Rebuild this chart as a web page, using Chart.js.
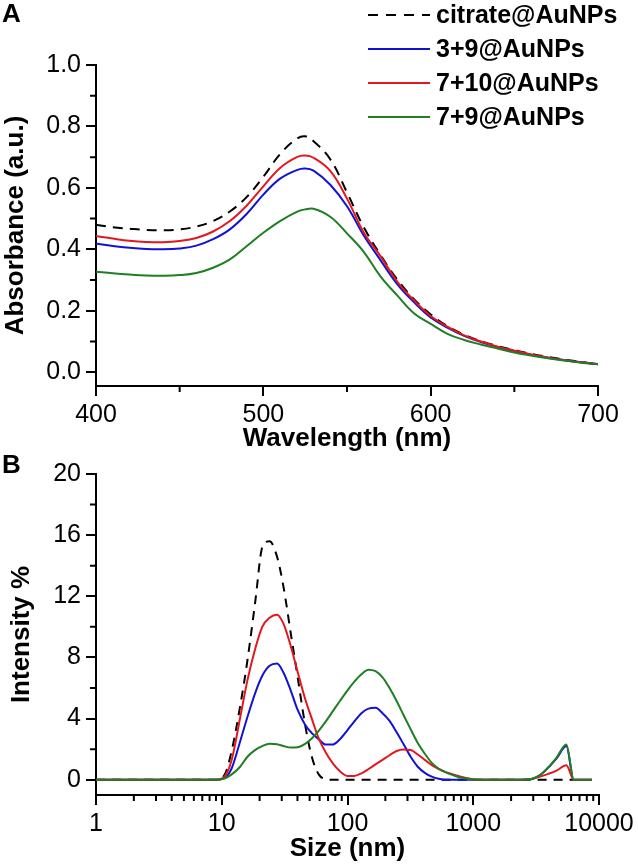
<!DOCTYPE html>
<html>
<head>
<meta charset="utf-8">
<script src="https://cdn.jsdelivr.net/npm/chart.js@4.4.1/dist/chart.umd.min.js"></script>
<style>
  body { margin: 0; background: #fff; }
  #wrap { position: relative; width: 638px; height: 864px; }
  .panel { position: absolute; left: 0; width: 638px; }
</style>
</head>
<body>
<div id="wrap">
  <div class="panel" style="top:0;height:454px"><canvas id="uvChart"></canvas></div>
  <div class="panel" style="top:454px;height:410px"><canvas id="dlsChart"></canvas></div>
</div>
<script>
// Panel A: UV-vis absorbance
const wavelengths = [400,410,420,430,440,450,460,470,480,490,500,510,520,525,530,540,550,560,570,580,590,600,610,620,630,640,650,660,670,680,690,700];
const citrateUV = [0.480,0.472,0.467,0.463,0.462,0.465,0.474,0.492,0.523,0.570,0.636,0.710,0.760,0.768,0.752,0.693,0.585,0.472,0.382,0.302,0.238,0.188,0.150,0.122,0.101,0.085,0.072,0.060,0.050,0.041,0.033,0.026];
const np39UV = [0.419,0.411,0.405,0.401,0.400,0.403,0.412,0.433,0.465,0.515,0.578,0.630,0.658,0.663,0.656,0.610,0.540,0.445,0.365,0.287,0.228,0.178,0.145,0.118,0.098,0.082,0.069,0.057,0.047,0.039,0.032,0.026];
const np710UV = [0.443,0.435,0.428,0.424,0.423,0.427,0.437,0.458,0.492,0.542,0.605,0.665,0.700,0.705,0.698,0.655,0.565,0.455,0.378,0.295,0.234,0.183,0.148,0.120,0.100,0.083,0.070,0.058,0.048,0.039,0.032,0.026];
const np79UV = [0.327,0.322,0.318,0.315,0.314,0.316,0.323,0.340,0.367,0.410,0.454,0.492,0.522,0.530,0.532,0.506,0.452,0.392,0.312,0.250,0.192,0.157,0.125,0.105,0.090,0.077,0.064,0.054,0.045,0.038,0.031,0.026];
const uvXTicks = [400, 500, 600, 700];
const uvXMinor = [450, 550, 650];
const uvYTicks = [0, 0.2, 0.4, 0.6, 0.8, 1.0];
const uvYMinor = [0.1, 0.3, 0.5, 0.7, 0.9];

// Panel B: DLS size distribution
const sizes = [1,9,10.5,12,14,16,18.5,21,24,27.5,31,35.5,40,46,52,59,67,76,87,100,113,129,147,167,190,216,246,280,318,362,412,468,532,605,690,785,900,1100,2500,2900,3400,3950,4600,5500,6300,8800];
const citrateDLS = [0,0,0.3,1.9,4.8,7.8,11.7,15.2,15.6,14.6,12.6,9.5,6.8,3.6,1.5,0.35,0.05,0,0,0,0,0,0,0,0,0,0,0,0,0,0,0,0,0,0,0,0,0,0,0,0,0,0,0,0,null];
const np39DLS = [0,0,0.1,0.75,2.5,4.1,5.7,6.8,7.45,7.6,7.0,5.8,4.6,3.6,3.05,2.65,2.3,2.3,2.65,3.25,3.8,4.35,4.65,4.7,4.35,3.85,3.1,2.3,1.5,0.85,0.45,0.2,0.06,0,0,0,0,0,0,0.03,0.3,0.8,1.4,2.2,0,0];
const np710DLS = [0,0,0.2,1.3,4.05,6.5,8.6,10.0,10.6,10.8,10.2,8.7,7.1,5.3,4.0,2.7,1.8,1.1,0.55,0.25,0.25,0.42,0.7,1.0,1.3,1.6,1.88,1.98,1.95,1.65,1.3,0.95,0.7,0.5,0.35,0.22,0.1,0,0,0.05,0.2,0.38,0.6,0.95,0,0];
const np79DLS = [0,0,0.08,0.35,0.85,1.5,1.95,2.2,2.35,2.32,2.2,2.1,2.12,2.35,2.7,3.2,3.8,4.45,5.15,5.85,6.4,6.9,7.2,7.1,6.7,6.0,5.15,4.2,3.3,2.4,1.7,1.1,0.72,0.48,0.3,0.15,0.07,0,0,0.05,0.3,0.8,1.45,2.3,0,0];
const dlsXTicks = [1, 10, 100, 1000, 10000];
const dlsXMinor = [2,3,4,5,6,7,8,9,20,30,40,50,60,70,80,90,200,300,400,500,600,700,800,900,2000,3000,4000,5000,6000,7000,8000,9000];
const dlsYTicks = [0, 4, 8, 12, 16, 20];
const dlsYMinor = [2, 6, 10, 14, 18];

const labels = ['citrate@AuNPs', '3+9@AuNPs', '7+10@AuNPs', '7+9@AuNPs'];
const colors = ['#000000', '#1212d4', '#e3171d', '#1f7f22'];

Chart.defaults.font.family = '"Liberation Sans", Arial, sans-serif';
Chart.defaults.color = '#000';

const pairs = (xs, ys) => xs.map((x, i) => ({ x: x, y: ys[i] }));

function makeDatasets(xs, series, dash, smooth) {
  const order = [3, 2, 1, 0];
  return series.map((ys, i) => ({
    label: labels[i],
    data: pairs(xs, ys),
    borderColor: colors[i],
    borderWidth: 2,
    borderDash: i === 0 ? dash : [],
    pointRadius: 0,
    fill: false,
    tension: smooth ? 0.4 : 0,
    cubicInterpolationMode: smooth ? 'default' : 'monotone',
    order: order[i],
  }));
}

// minor ticks, panel letter and the legend
const axisExtras = {
  id: 'axisExtras',
  afterDraw(chart, args, opts) {
    const { ctx, chartArea, scales } = chart;
    ctx.save();
    ctx.strokeStyle = '#000';
    ctx.lineWidth = 2;
    ctx.beginPath();
    opts.minorX.forEach(v => {
      const x = scales.x.getPixelForValue(v);
      ctx.moveTo(x, chartArea.bottom);
      ctx.lineTo(x, chartArea.bottom + 6);
    });
    opts.minorY.forEach(v => {
      const y = scales.y.getPixelForValue(v);
      ctx.moveTo(chartArea.left - 6, y);
      ctx.lineTo(chartArea.left, y);
    });
    ctx.stroke();

    ctx.fillStyle = '#000';
    ctx.textAlign = 'left';
    ctx.textBaseline = 'middle';
    ctx.font = 'bold 26px "Liberation Sans", Arial, sans-serif';
    ctx.fillText(opts.letter, opts.letterX, opts.letterY);

    if (opts.legend) {
      ctx.font = 'bold 25px "Liberation Sans", Arial, sans-serif';
      chart.data.datasets.forEach((ds, i) => {
        const y = 15 + i * 34;
        ctx.strokeStyle = ds.borderColor;
        ctx.setLineDash(ds.borderDash.length ? [10, 8] : []);
        ctx.beginPath();
        ctx.moveTo(368, y);
        ctx.lineTo(430, y);
        ctx.stroke();
        ctx.setLineDash([]);
        ctx.fillText(ds.label, 436, y + 1);
      });
    }
    ctx.restore();
  }
};

function axis(title, titlePad) {
  return {
    grid: { drawOnChartArea: false, drawTicks: true, tickLength: 10, lineWidth: 2, color: '#000' },
    border: { display: true, color: '#000', width: 2 },
    ticks: { font: { size: 25 }, color: '#000', padding: 4, maxRotation: 0, autoSkip: false },
    title: { display: true, text: title, font: { size: 26, weight: 'bold' }, color: '#000', padding: titlePad },
  };
}

// Panel A
const uvX = axis('Wavelength (nm)', { top: 0, bottom: 0 });
Object.assign(uvX, {
  type: 'linear', min: 400, max: 700,
  afterBuildTicks: s => { s.ticks = uvXTicks.map(v => ({ value: v })); },
  afterFit: s => { s.height = 68; },
});
uvX.ticks.callback = v => String(v);
const uvY = axis('Absorbance (a.u.)', { top: 0, bottom: 0 });
Object.assign(uvY, {
  min: -0.045, max: 1.0,
  afterBuildTicks: s => { s.ticks = uvYTicks.map(v => ({ value: v })); },
  afterFit: s => { s.width = 96; },
});
uvY.ticks.padding = 5;
uvY.ticks.callback = v => v.toFixed(1);

new Chart(document.getElementById('uvChart'), {
  type: 'line',
  data: { datasets: makeDatasets(wavelengths, [citrateUV, np39UV, np710UV, np79UV], [10, 7], true) },
  options: {
    responsive: true,
    maintainAspectRatio: false,
    animation: false,
    layout: { padding: { top: 65, right: 40, left: 0, bottom: 0 } },
    scales: { x: uvX, y: uvY },
    plugins: {
      legend: { display: false },
      tooltip: { enabled: false },
      axisExtras: { minorX: uvXMinor, minorY: uvYMinor, letter: 'A', letterX: 2, letterY: 15, legend: true },
    },
  },
  plugins: [axisExtras],
});

// Panel B
const dlsX = axis('Size (nm)', { top: 0, bottom: 0 });
Object.assign(dlsX, {
  type: 'logarithmic', min: 1, max: 10000,
  afterBuildTicks: s => { s.ticks = dlsXTicks.map(v => ({ value: v })); },
  afterFit: s => { s.height = 69; },
});
dlsX.ticks.callback = v => String(v);
const dlsY = axis('Intensity %', { top: 6, bottom: 0 });
Object.assign(dlsY, {
  min: -1, max: 20,
  afterBuildTicks: s => { s.ticks = dlsYTicks.map(v => ({ value: v })); },
  afterFit: s => { s.width = 96; },
});
dlsY.ticks.padding = 5;
dlsY.ticks.callback = v => String(v);

new Chart(document.getElementById('dlsChart'), {
  type: 'line',
  data: { datasets: makeDatasets(sizes, [citrateDLS, np39DLS, np710DLS, np79DLS], [9, 7], false) },
  options: {
    responsive: true,
    maintainAspectRatio: false,
    animation: false,
    layout: { padding: { top: 17, right: 39, left: 0, bottom: 0 } },
    scales: { x: dlsX, y: dlsY },
    plugins: {
      legend: { display: false },
      tooltip: { enabled: false },
      axisExtras: { minorX: dlsXMinor, minorY: dlsYMinor, letter: 'B', letterX: 2, letterY: 12, legend: false },
    },
  },
  plugins: [axisExtras],
});
</script>
</body>
</html>
